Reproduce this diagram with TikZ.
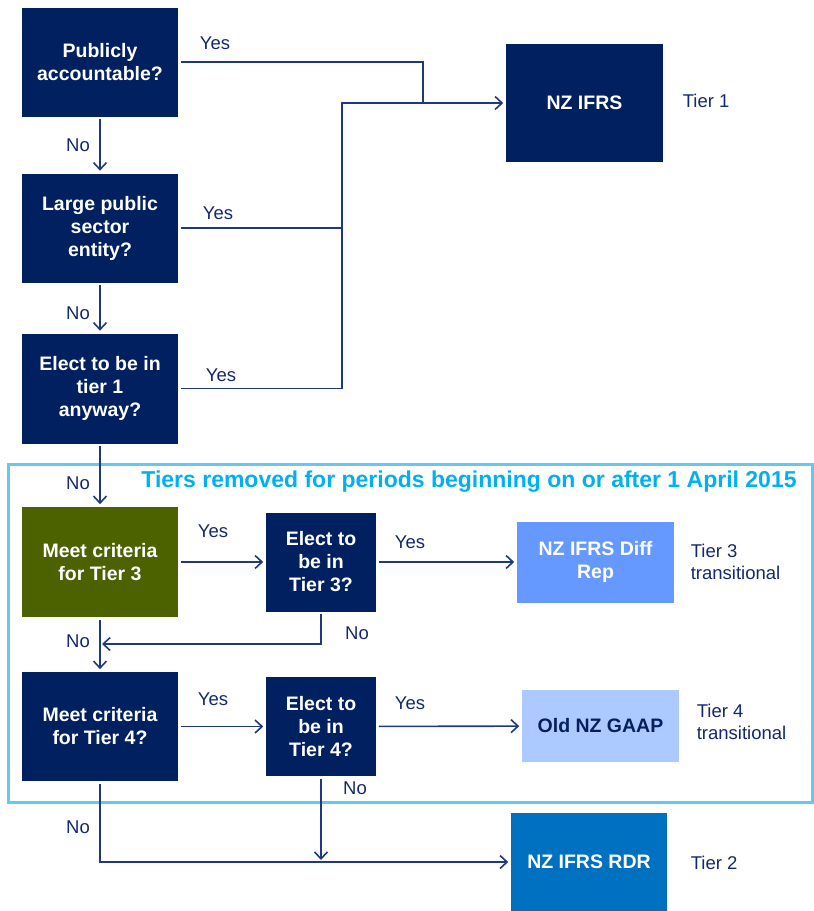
\documentclass[tikz,border=0pt]{standalone}
\usepackage{fontspec}
\setmainfont{Liberation Sans}
\usetikzlibrary{arrows.meta}

\definecolor{navy}{RGB}{0,32,96}
\definecolor{linecol}{RGB}{32,56,128}
\definecolor{labcol}{RGB}{20,40,110}
\definecolor{olivebox}{RGB}{76,98,0}
\definecolor{diffblue}{RGB}{102,153,255}
\definecolor{gaapblue}{RGB}{172,202,255}
\definecolor{rdrblue}{RGB}{0,112,192}
\definecolor{framecol}{RGB}{100,200,240}
\definecolor{titlecol}{RGB}{0,176,240}

\def\colq{100}
\def\cole{321}
\def\junca{423}
\def\juncb{342}

\begin{document}
\begin{tikzpicture}[x=1pt,y=-1pt,shorten >=2pt,shorten <=2pt,->,
    >={Straight Barb[length=7pt,width=13pt]},color=linecol,line width=1.6pt]
    \tikzstyle{qbox}=[rectangle, fill=navy, text=white, align=center, inner sep=0pt,
        font=\fontsize{19.5}{23}\selectfont\bfseries, minimum width=156pt, minimum height=109pt]
    \tikzstyle{ebox}=[qbox, minimum width=110pt, minimum height=99pt]
    \tikzstyle{obox}=[qbox, minimum width=157pt]
    \tikzstyle{lab}=[text=labcol, font=\fontsize{18.5}{22}\selectfont]
    \tikzstyle{tierlab}=[lab, anchor=west, align=left, inner sep=0pt]
    \tikzstyle{plain}=[-, shorten >=0pt]
    \useasboundingbox (0,0) rectangle (814,911);

    % Draw the frame of the removed tiers
    \draw[-, shorten >=0pt, shorten <=0pt, framecol, line width=3pt] (8,464) rectangle (812,802);
    \node[text=titlecol, font=\fontsize{23}{26}\selectfont\bfseries] (title)
        at (469,482) {Tiers removed for periods beginning on or after 1 April 2015};

    % Draw the question boxes
    \node[qbox] (Q1) at (\colq,62) {Publicly\\accountable?};
    \node[qbox] (Q2) at (\colq,228) {Large public\\sector\\entity?};
    \node[qbox, minimum height=110pt] (Q3) at (\colq,388.5) {Elect to be in\\tier 1\\anyway?};
    \node[qbox, fill=olivebox, minimum height=110pt] (Q4) at (\colq,562) {Meet criteria\\for Tier 3};
    \node[qbox] (Q5) at (\colq,726.5) {Meet criteria\\for Tier 4?};
    \node[ebox] (E3) at (\cole,562) {Elect to\\be in\\Tier 3?};
    \node[ebox] (E4) at (\cole,726.5) {Elect to\\be in\\Tier 4?};

    % Draw the outcome boxes
    \node[obox, minimum height=118pt] (T1) at (584.5,103) {NZ IFRS};
    \node[obox, fill=diffblue, minimum height=81pt] (T3) at (595.5,562) {NZ IFRS Diff\\Rep};
    \node[obox, fill=gaapblue, text=navy, minimum height=72pt] (T4) at (600.5,726) {Old NZ GAAP};
    \node[obox, fill=rdrblue, minimum width=156pt, minimum height=98pt] (T2) at (589,862) {NZ IFRS RDR};

    % Tier annotations
    \node[tierlab] (L1) at (682,101) {Tier 1};
    \node[tierlab] (L3) at (690,562) {Tier 3\\transitional};
    \node[tierlab] (L4) at (696,722) {Tier 4\\transitional};
    \node[tierlab] (L2) at (690,863) {Tier 2};

    % Junctions of the joined lines
    \coordinate (J1) at (\junca,103);
    \coordinate (J2) at (\juncb,103);
    \coordinate (J3) at (\colq,644);
    \coordinate (J4) at (\cole,862);

    % Yes branches into tier 1
    \draw[plain] (Q1) -- (Q1 -| J1) -- (J1);
    \draw[plain] (Q2) -- (Q2 -| J2);
    \draw (Q3) -| (J2) -- (T1);

    % No branches down the left column
    \foreach \source / \dest in {Q1/Q2, Q2/Q3, Q3/Q4, Q4/Q5}
        \draw (\source) -- (\dest);
    \draw (E3) |- (J3);
    \draw (Q5) |- (T2);
    \draw (E4) -- (J4);

    % Yes branches in the frame
    \foreach \source / \dest in {Q4/E3, E3/T3, Q5/E4, E4/T4}
        \draw (\source) -- (\dest);

    % Annotate the branches
    \node[lab] (y1) at (215,43) {Yes};
    \node[lab] (y2) at (218,213) {Yes};
    \node[lab] (y3) at (221,375) {Yes};
    \node[lab] (y4) at (213,531) {Yes};
    \node[lab] (y5) at (410,542) {Yes};
    \node[lab] (y6) at (213,699) {Yes};
    \node[lab] (y7) at (410,703) {Yes};
    \node[lab] (n1) at (78,145) {No};
    \node[lab] (n2) at (78,313) {No};
    \node[lab] (n3) at (78,483) {No};
    \node[lab] (n4) at (78,641) {No};
    \node[lab] (n5) at (357,633) {No};
    \node[lab] (n6) at (355,788) {No};
    \node[lab] (n7) at (78,827) {No};
\end{tikzpicture}
\end{document}
